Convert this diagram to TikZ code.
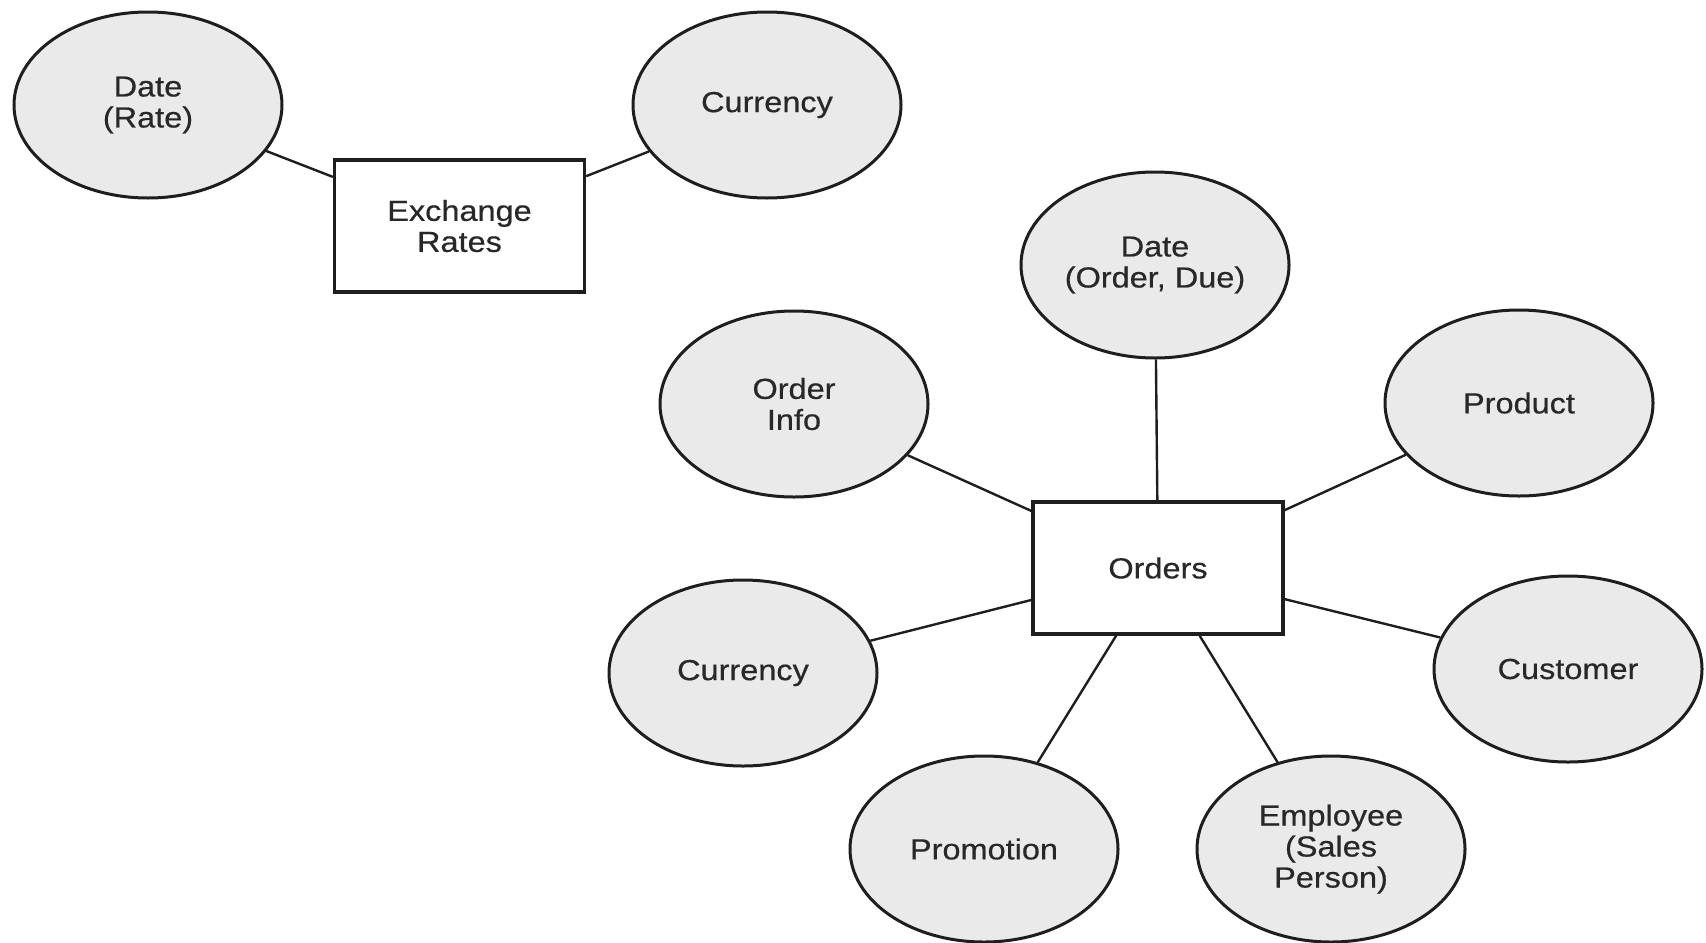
\documentclass[tikz,border=0pt]{standalone}
\usepackage{fontspec}
\setmainfont[FakeStretch=1.12,FakeBold=0.5]{Liberation Sans}
\usetikzlibrary{shapes.geometric}
\definecolor{attrfill}{RGB}{234,234,234}
\definecolor{inkline}{RGB}{30,30,30}
\definecolor{inktext}{RGB}{40,40,40}
\begin{document}
\begin{tikzpicture}[x=0.5pt,y=-0.5pt,
  every node/.style={font=\fontsize{14.5pt}{15.5pt}\selectfont, text=inktext, align=center},
  attr/.style={ellipse, draw=inkline, line width=1.5pt, fill=attrfill,
               minimum width=134pt, minimum height=93pt, inner sep=0pt},
  fact/.style={rectangle, draw=inkline, line width=1.7pt, fill=white,
               minimum width=125pt, minimum height=66pt, inner sep=0pt},
  link/.style={draw=inkline, line width=1.2pt}]
\useasboundingbox (0,0) rectangle (1706,942);

% exchange rates fact and its dimensions
\node[attr] (daterate) at (148,105) {Date\\(Rate)};
\node[attr] (curtop)   at (767,105) {Currency};
\node[fact] (xrates)   at (459.5,226) {Exchange\\Rates};

% orders fact and its dimensions
\node[attr] (dateorder) at (1155,265) {Date\\(Order, Due)};
\node[attr] (orderinfo) at (794,404)  {Order\\Info};
\node[attr] (product)   at (1519,403) {Product};
\node[attr] (curlow)    at (743,673)  {Currency};
\node[attr] (customer)  at (1568,669) {Customer};
\node[attr] (promotion) at (984,849)  {Promotion};
\node[attr] (employee)  at (1331,849) {Employee\\(Sales\\Person)};
\node[fact] (orders)    at (1158,568) {Orders};

% connectors
\draw[link] (daterate) -- (xrates);
\draw[link] (curtop) -- (xrates);
\draw[link] (dateorder) -- (orders);
\draw[link] (orderinfo) -- (orders);
\draw[link] (product) -- (orders);
\draw[link] (curlow) -- (orders);
\draw[link] (customer) -- (orders);
\draw[link] (promotion) -- (orders);
\draw[link] (employee) -- (orders);
\end{tikzpicture}
\end{document}
